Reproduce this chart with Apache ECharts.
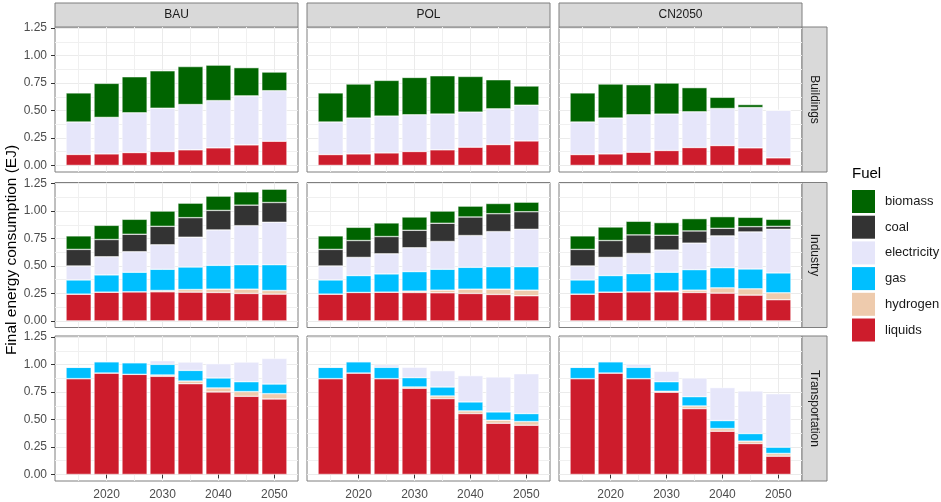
<!DOCTYPE html>
<html>
<head>
<meta charset="utf-8">
<script src="https://cdn.jsdelivr.net/npm/echarts@6/dist/echarts.min.js"></script>
<style>
  html, body { margin: 0; padding: 0; background: #fff; }
  #chart { width: 941px; height: 502px; }
</style>
</head>
<body>
<div id="chart"></div>
<script>
// categories
var years = ['2015', '2020', '2025', '2030', '2035', '2040', '2045', '2050'];
var scenarios = ['BAU', 'POL', 'CN2050'];
var sectors = ['Buildings', 'Industry', 'Transportation'];
var fuels = ['biomass', 'coal', 'electricity', 'gas', 'hydrogen', 'liquids'];
var stackOrder = ['liquids', 'hydrogen', 'gas', 'electricity', 'coal', 'biomass']; // bottom -> top
var yTicks = [0, 0.25, 0.5, 0.75, 1, 1.25];
var yMinor = [0.125, 0.375, 0.625, 0.875, 1.125];
var xTicks = [2020, 2030, 2040, 2050];
var xMinor = [2015, 2025, 2035, 2045];

// Buildings (EJ)
var BAU_Buildings_liquids = [0.100, 0.105, 0.117, 0.127, 0.142, 0.160, 0.187, 0.220];
var BAU_Buildings_electricity = [0.295, 0.332, 0.362, 0.394, 0.412, 0.430, 0.446, 0.460];
var BAU_Buildings_biomass = [0.265, 0.310, 0.328, 0.340, 0.346, 0.323, 0.257, 0.170];
var POL_Buildings_liquids = [0.099, 0.105, 0.114, 0.127, 0.142, 0.166, 0.190, 0.223];
var POL_Buildings_electricity = [0.296, 0.326, 0.335, 0.334, 0.325, 0.319, 0.325, 0.325];
var POL_Buildings_biomass = [0.265, 0.310, 0.325, 0.340, 0.349, 0.325, 0.265, 0.175];
var CN2050_Buildings_liquids = [0.099, 0.105, 0.120, 0.136, 0.163, 0.181, 0.160, 0.069];
var CN2050_Buildings_electricity = [0.296, 0.326, 0.341, 0.331, 0.325, 0.337, 0.367, 0.434];
var CN2050_Buildings_biomass = [0.265, 0.310, 0.274, 0.283, 0.220, 0.102, 0.027, 0];

// Industry (EJ)
var BAU_Industry_liquids = [0.244, 0.262, 0.265, 0.265, 0.262, 0.259, 0.250, 0.244];
var BAU_Industry_hydrogen = [0, 0, 0, 0.012, 0.024, 0.030, 0.039, 0.033];
var BAU_Industry_gas = [0.129, 0.157, 0.178, 0.193, 0.205, 0.217, 0.223, 0.235];
var BAU_Industry_electricity = [0.127, 0.165, 0.187, 0.223, 0.271, 0.322, 0.355, 0.386];
var BAU_Industry_coal = [0.151, 0.157, 0.159, 0.168, 0.178, 0.178, 0.187, 0.180];
var BAU_Industry_biomass = [0.123, 0.129, 0.136, 0.139, 0.132, 0.130, 0.121, 0.121];
var POL_Industry_liquids = [0.244, 0.259, 0.262, 0.259, 0.256, 0.250, 0.241, 0.229];
var POL_Industry_hydrogen = [0, 0, 0, 0.012, 0.024, 0.039, 0.048, 0.051];
var POL_Industry_gas = [0.129, 0.154, 0.166, 0.178, 0.190, 0.199, 0.205, 0.214];
var POL_Industry_electricity = [0.127, 0.165, 0.183, 0.217, 0.253, 0.289, 0.319, 0.340];
var POL_Industry_coal = [0.151, 0.154, 0.157, 0.159, 0.166, 0.169, 0.163, 0.160];
var POL_Industry_biomass = [0.123, 0.120, 0.124, 0.121, 0.111, 0.099, 0.093, 0.087];
var CN2050_Industry_liquids = [0.244, 0.262, 0.265, 0.265, 0.259, 0.253, 0.235, 0.193];
var CN2050_Industry_hydrogen = [0, 0, 0, 0.006, 0.021, 0.048, 0.057, 0.063];
var CN2050_Industry_gas = [0.129, 0.151, 0.166, 0.172, 0.187, 0.184, 0.181, 0.181];
var CN2050_Industry_electricity = [0.127, 0.165, 0.183, 0.202, 0.241, 0.289, 0.337, 0.397];
var CN2050_Industry_coal = [0.151, 0.154, 0.169, 0.135, 0.111, 0.069, 0.048, 0.027];
var CN2050_Industry_biomass = [0.123, 0.123, 0.124, 0.115, 0.112, 0.106, 0.085, 0.064];

// Transportation (EJ)
var BAU_Transportation_liquids = [0.872, 0.923, 0.911, 0.893, 0.826, 0.751, 0.711, 0.687];
var BAU_Transportation_hydrogen = [0, 0, 0, 0.012, 0.024, 0.036, 0.043, 0.048];
var BAU_Transportation_gas = [0.103, 0.103, 0.106, 0.097, 0.097, 0.091, 0.090, 0.088];
var BAU_Transportation_electricity = [0, 0, 0, 0.033, 0.076, 0.130, 0.179, 0.233];
var POL_Transportation_liquids = [0.872, 0.923, 0.872, 0.784, 0.690, 0.554, 0.466, 0.448];
var POL_Transportation_hydrogen = [0, 0, 0, 0.012, 0.024, 0.024, 0.027, 0.033];
var POL_Transportation_gas = [0.103, 0.103, 0.103, 0.085, 0.082, 0.082, 0.076, 0.073];
var POL_Transportation_electricity = [0, 0, 0.024, 0.094, 0.148, 0.239, 0.318, 0.363];
var CN2050_Transportation_liquids = [0.872, 0.923, 0.872, 0.748, 0.599, 0.393, 0.281, 0.166];
var CN2050_Transportation_hydrogen = [0, 0, 0, 0.009, 0.024, 0.025, 0.022, 0.025];
var CN2050_Transportation_gas = [0.103, 0.103, 0.103, 0.087, 0.085, 0.072, 0.069, 0.057];
var CN2050_Transportation_electricity = [0, 0, 0.030, 0.094, 0.170, 0.300, 0.388, 0.487];

var panelData = {
    BAU_Buildings: { liquids: BAU_Buildings_liquids, electricity: BAU_Buildings_electricity, biomass: BAU_Buildings_biomass },
    POL_Buildings: { liquids: POL_Buildings_liquids, electricity: POL_Buildings_electricity, biomass: POL_Buildings_biomass },
    CN2050_Buildings: { liquids: CN2050_Buildings_liquids, electricity: CN2050_Buildings_electricity, biomass: CN2050_Buildings_biomass },
    BAU_Industry: { liquids: BAU_Industry_liquids, hydrogen: BAU_Industry_hydrogen, gas: BAU_Industry_gas, electricity: BAU_Industry_electricity, coal: BAU_Industry_coal, biomass: BAU_Industry_biomass },
    POL_Industry: { liquids: POL_Industry_liquids, hydrogen: POL_Industry_hydrogen, gas: POL_Industry_gas, electricity: POL_Industry_electricity, coal: POL_Industry_coal, biomass: POL_Industry_biomass },
    CN2050_Industry: { liquids: CN2050_Industry_liquids, hydrogen: CN2050_Industry_hydrogen, gas: CN2050_Industry_gas, electricity: CN2050_Industry_electricity, coal: CN2050_Industry_coal, biomass: CN2050_Industry_biomass },
    BAU_Transportation: { liquids: BAU_Transportation_liquids, hydrogen: BAU_Transportation_hydrogen, gas: BAU_Transportation_gas, electricity: BAU_Transportation_electricity },
    POL_Transportation: { liquids: POL_Transportation_liquids, hydrogen: POL_Transportation_hydrogen, gas: POL_Transportation_gas, electricity: POL_Transportation_electricity },
    CN2050_Transportation: { liquids: CN2050_Transportation_liquids, hydrogen: CN2050_Transportation_hydrogen, gas: CN2050_Transportation_gas, electricity: CN2050_Transportation_electricity }
};

var fuelColors = {
    biomass: '#006400',
    coal: '#333333',
    electricity: '#E6E6FA',
    gas: '#00BFFF',
    hydrogen: '#EECBAD',
    liquids: '#CD1C2C'
};

// layout (px)
var colLeft = [55, 307, 559];
var rowTop = [27, 182.5, 336];
var panelW = 243, panelH = 145;
var xMin = 2010.775, xMax = 2054.225;      // ggplot expanded year range
var yMin = -0.06, yMax = 1.26;
var pxPerYear = panelW / (xMax - xMin);
var innerOff = (2012.5 - xMin) * pxPerYear; // bars area: 8 bands of 5 years
var innerW = 40 * pxPerYear;
var fontFam = '"Liberation Sans", Arial, sans-serif';

var grids = [], xAxes = [], yAxes = [], series = [], graphics = [];

function hiddenAxis(extra) {
    var a = {
        axisLine: { show: false }, axisTick: { show: false },
        axisLabel: { show: false }, splitLine: { show: false }
    };
    for (var k in extra) a[k] = extra[k];
    return a;
}

sectors.forEach(function (sector, r) {
    scenarios.forEach(function (scen, c) {
        var outer = grids.length;
        // outer panel: border + grid lines + axis labels
        grids.push({
            left: colLeft[c], top: rowTop[r], width: panelW, height: panelH,
            show: true, backgroundColor: '#fff', borderColor: '#7f7f7f', borderWidth: 1
        });
        // inner panel: bars on a category axis
        grids.push({
            left: colLeft[c] + innerOff, top: rowTop[r], width: innerW, height: panelH, show: false
        });
        var inner = outer + 1;

        xAxes.push({
            type: 'value', gridIndex: outer, min: xMin, max: xMax,
            axisLine: { show: false },
            axisTick: { show: r === 2, length: 4, customValues: xTicks, lineStyle: { color: '#333' } },
            axisLabel: {
                show: r === 2, customValues: xTicks, margin: 8, color: '#4D4D4D', fontSize: 12, fontFamily: fontFam,
                formatter: function (v) { return String(v); }
            },
            splitLine: { show: true, lineStyle: { color: '#EBEBEB', width: 1 } }
        });
        xAxes.push({
            type: 'value', gridIndex: outer, min: xMin, max: xMax,
            axisLine: { show: false },
            axisTick: { show: false, customValues: xMinor },
            axisLabel: { show: false, customValues: xMinor },
            splitLine: { show: true, lineStyle: { color: '#F0F0F0', width: 1 } }
        });
        var catIdx = xAxes.length;
        xAxes.push(hiddenAxis({ type: 'category', gridIndex: inner, data: years, boundaryGap: true }));

        yAxes.push({
            type: 'value', gridIndex: outer, min: yMin, max: yMax,
            axisLine: { show: false },
            axisTick: { show: c === 0, length: 4, customValues: yTicks, lineStyle: { color: '#333' } },
            axisLabel: {
                show: c === 0, customValues: yTicks, margin: 8, color: '#4D4D4D', fontSize: 12, fontFamily: fontFam,
                formatter: function (v) { return v.toFixed(2); }
            },
            splitLine: { show: true, lineStyle: { color: '#EBEBEB', width: 1 } }
        });
        yAxes.push({
            type: 'value', gridIndex: outer, min: yMin, max: yMax,
            axisLine: { show: false },
            axisTick: { show: false, customValues: yMinor },
            axisLabel: { show: false, customValues: yMinor },
            splitLine: { show: true, lineStyle: { color: '#F0F0F0', width: 1 } }
        });
        var valIdx = yAxes.length;
        yAxes.push(hiddenAxis({ type: 'value', gridIndex: inner, min: yMin, max: yMax }));

        var d = panelData[scen + '_' + sector];
        stackOrder.forEach(function (fuel) {
            if (!d[fuel]) return;
            series.push({
                name: fuel,
                type: 'bar',
                xAxisIndex: catIdx,
                yAxisIndex: valIdx,
                stack: 'p' + outer,
                barWidth: '90%',
                itemStyle: { color: fuelColors[fuel], borderColor: '#fff', borderWidth: 0.5 },
                data: d[fuel],
                z: 3
            });
        });

        // top strips
        if (r === 0) {
            graphics.push({
                type: 'rect', shape: { x: colLeft[c], y: 3, width: panelW, height: 24 },
                style: { fill: '#D9D9D9', stroke: '#7f7f7f', lineWidth: 1 }
            });
            graphics.push({
                type: 'text', x: colLeft[c] + panelW / 2, y: 15,
                style: { text: scen, fill: '#1A1A1A', font: '12px ' + fontFam, textAlign: 'center', textVerticalAlign: 'middle' }
            });
        }
        // right strips
        if (c === 2) {
            graphics.push({
                type: 'rect', shape: { x: colLeft[2] + panelW, y: rowTop[r], width: 25, height: panelH },
                style: { fill: '#D9D9D9', stroke: '#7f7f7f', lineWidth: 1 }
            });
            graphics.push({
                type: 'text', x: colLeft[2] + panelW + 12.5, y: rowTop[r] + panelH / 2,
                rotation: -Math.PI / 2,
                style: { text: sector, fill: '#1A1A1A', font: '12px ' + fontFam, textAlign: 'center', textVerticalAlign: 'middle' }
            });
        }
    });
});

// axis title and legend title
graphics.push({
    type: 'text', x: 12, y: 250, rotation: Math.PI / 2,
    style: { text: 'Final energy consumption (EJ)', fill: '#000', font: '15.5px ' + fontFam, textAlign: 'center', textVerticalAlign: 'middle' }
});
graphics.push({
    type: 'text', x: 852, y: 174,
    style: { text: 'Fuel', fill: '#000', font: '15px ' + fontFam, textAlign: 'left', textVerticalAlign: 'middle' }
});

var myChart = echarts.init(document.getElementById('chart'));
myChart.setOption({
    animation: false,
    backgroundColor: '#fff',
    legend: {
        data: fuels,
        orient: 'vertical',
        left: 852,
        top: 190,
        padding: 0,
        icon: 'rect',
        itemWidth: 23,
        itemHeight: 23,
        itemGap: 2.7,
        itemStyle: { borderWidth: 0 },
        textStyle: { fontSize: 13, color: '#1A1A1A', fontFamily: fontFam, padding: [0, 0, 0, 5] },
        selectedMode: false
    },
    grid: grids,
    xAxis: xAxes,
    yAxis: yAxes,
    series: series,
    graphic: graphics
});
</script>
</body>
</html>
